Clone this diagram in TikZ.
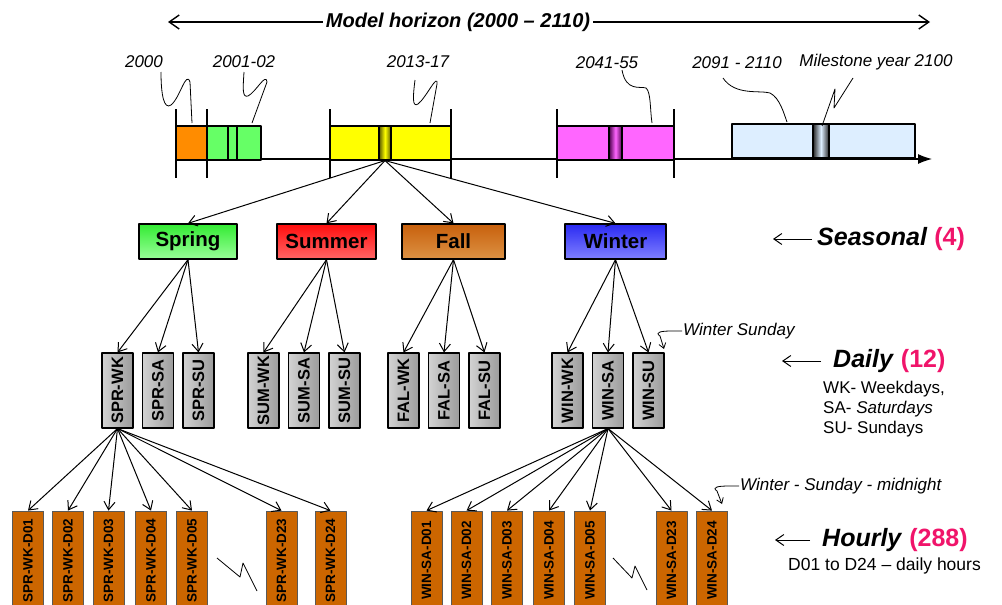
\documentclass[tikz,border=0pt]{standalone}
\usepackage{fontspec}
\setmainfont{Liberation Sans}
\usetikzlibrary{arrows.meta,positioning}

\definecolor{tlorange}{HTML}{FF8C00}
\definecolor{tlgreen}{HTML}{66FF66}
\definecolor{tlyellow}{HTML}{FFFF00}
\definecolor{tlpink}{HTML}{FF66FF}
\definecolor{tlblue}{HTML}{DDEEFF}
\definecolor{hourfill}{HTML}{CC6600}
\definecolor{countpink}{HTML}{F0146A}
\definecolor{falltop}{HTML}{C8600C}
\definecolor{fallbot}{HTML}{DC9244}
\definecolor{wintop}{HTML}{2A2AF2}
\definecolor{winbot}{HTML}{8080FF}

\newcommand{\fsz}[1]{\fontsize{#1}{#1}\selectfont}

\tikzset{
  tl/.style={draw, line width=1.1pt},
  tick/.style={line width=1.1pt},
  yearlbl/.style={font=\fsz{17}\itshape, inner sep=1pt},
  callout/.style={line width=0.8pt},
  season/.style={draw, line width=1.3pt, minimum height=35pt, inner sep=0pt, font=\fsz{20.5}\bfseries},
  daybox/.style={draw, line width=1.1pt, rotate=90, minimum width=75pt, minimum height=31pt, inner sep=0pt,
    left color=gray!35, right color=gray!78, font=\fsz{16.5}\bfseries},
  hourbox/.style={draw=gray!70!black, line width=0.8pt, fill=hourfill, rotate=90, minimum width=99pt,
    minimum height=31pt, inner sep=0pt, font=\fsz{13.5}\bfseries},
  link/.style={->, line width=1pt},
  levellbl/.style={anchor=west, inner sep=0pt, font=\fsz{25}},
}

\begin{document}
\begin{tikzpicture}[x=1pt, y=-1pt, >={Straight Barb[length=8pt,width=11pt]}, line join=round]
  \clip (0,0) rectangle (1002,605);

  % model horizon
  \node[font=\fsz{20}\bfseries\itshape, inner sep=3pt] (horizon) at (458,22) {Model horizon (2000 -- 2110)};
  \draw[line width=1.4pt, -{Straight Barb[length=10pt,width=14pt]}] (horizon.west) -- (168,22);
  \draw[line width=1.4pt, -{Straight Barb[length=10pt,width=14pt]}] (horizon.east) -- (930,22);

  % time line
  \draw[line width=1.1pt, -{Latex[length=14pt,width=10pt]}] (176,159) -- (932,159);
  \foreach \x in {176,207,330,451,557,674}
    \draw[tick] (\x,109) -- (\x,178);
  \draw[tl, fill=tlorange] (176,126) rectangle (207,160);
  \draw[tl, fill=tlgreen] (207,126) rectangle (261,160);
  \draw[tl, fill=tlgreen] (228,126) rectangle (237,160);
  \draw[tl, fill=tlyellow] (330,126) rectangle (451,160);
  \draw[tl, fill=tlpink] (557,126) rectangle (674,160);
  \draw[tl, fill=tlblue] (732,124) rectangle (915,158);
  \node[tl, minimum width=12pt, minimum height=34pt, inner sep=0pt,
    left color=olive!70!black, right color=olive!70!black, middle color=tlyellow] (ms) at (385,143) {};
  \node[tl, minimum width=13pt, minimum height=34pt, inner sep=0pt,
    left color=violet!60!black, right color=violet!60!black, middle color=tlpink] (ms2045) at (615.5,143) {};
  \node[tl, minimum width=16pt, minimum height=34pt, inner sep=0pt,
    left color=black!85, right color=black!85, middle color=tlblue] (ms2100) at (821,141) {};

  % period labels
  \node[yearlbl] (y2000) at (144,62) {2000};
  \node[yearlbl] (y2001) at (244,62) {2001-02};
  \node[yearlbl] (y2013) at (418,62) {2013-17};
  \node[yearlbl] (y2041) at (607,63) {2041-55};
  \node[yearlbl] (y2091) at (737,63) {2091 - 2110};
  \node[yearlbl] (y2100) at (876,62) {Milestone year 2100};
  \draw[callout] (161,72) .. controls (161,95) and (164,110) .. (171,105)
    .. controls (180,98) and (186,70) .. (190,82) -- (192,123);
  \draw[callout] (244,72) .. controls (243,88) and (242,98) .. (248,96)
    .. controls (256,92) and (266,72) .. (267,82) -- (252,123);
  \draw[callout] (415,80) .. controls (413,96) and (412,108) .. (418,104)
    .. controls (426,98) and (438,72) .. (437,84) -- (430,123);
  \draw[callout] (622,70) .. controls (626,92) and (640,86) .. (646,88)
    .. controls (651,92) and (650,110) .. (652,123);
  \draw[callout] (723,78) .. controls (735,96) and (760,90) .. (770,93)
    .. controls (780,98) and (784,114) .. (787,122);
  \draw[callout] (853,78) -- (834,108) -- (835,89) -- (822,126);

  % seasons
  \node[season, minimum width=98pt, top color=green!90!black!80, bottom color=green!40] (spring) at (188,241.5) {Spring};
  \node[season, minimum width=99pt, top color=red!95, bottom color=red!60] (summer) at (326.5,241.5) {Summer};
  \node[season, minimum width=103pt, top color=falltop, bottom color=fallbot] (fall) at (453.5,241.5) {Fall};
  \node[season, minimum width=101pt, top color=wintop, bottom color=winbot] (winter) at (615.5,241.5) {Winter};
  \foreach \n in {spring,summer,fall,winter}
    \draw[link] (ms.south) -- (\n.north);

  % days
  \foreach \s/\n/\x/\S in {spr/spring/117.5/SPR, sum/summer/263.5/SUM, fal/fall/403.5/FAL, win/winter/567.5/WIN} {
    \foreach \d/\D [count=\i from 0] in {wk/WK, sa/SA, su/SU} {
      \node[daybox] (\s\d) at (\x+40.5*\i,390.5) {\S-\D};
      \draw[link] (\n.south) -- (\s\d.east);
    }
  }

  % hours
  \foreach \h/\x in {01/28, 02/68, 03/108.5, 04/151, 05/192, 23/281.5, 24/330.5} {
    \node[hourbox] (sprwk\h) at (\x,560.5) {SPR-WK-D\h};
    \draw[link] (sprwk.west) -- (sprwk\h.east);
  }
  \foreach \h/\x in {01/426.5, 02/466.5, 03/507, 04/549, 05/590, 23/671.5, 24/712} {
    \node[hourbox] (winsa\h) at (\x,560.5) {WIN-SA-D\h};
    \draw[link] (winsa.west) -- (winsa\h.east);
  }
  \draw[callout] (217,558) -- (240,577) -- (243,563) -- (257,591);
  \draw[callout] (613,558) -- (632,578) -- (635,566) -- (647,590);

  % notes
  \node[yearlbl, anchor=west] (winsunday) at (682,331) {Winter Sunday};
  \draw[callout, ->, >={Straight Barb[length=5pt,width=7pt]}] (winsunday.west) -- ++(-10,0)
    .. controls ++(-10,0) and ++(-6,-4) .. ++(-12,5) -- (664,349);
  \node[yearlbl, anchor=west] (winmidnight) at (739,486) {Winter - Sunday - midnight};
  \draw[callout, ->, >={Straight Barb[length=5pt,width=7pt]}] (winmidnight.west) -- ++(-10,0)
    .. controls ++(-10,0) and ++(-6,-4) .. ++(-12,5) -- (722,504);

  % levels
  \node[levellbl] (seasonal) at (817,239) {\textbf{\textit{Seasonal}} \textcolor{countpink}{\textbf{(4)}}};
  \draw[->, line width=1pt] ([xshift=-5pt]seasonal.west) -- ++(-39,0);
  \node[levellbl] (daily) at (833,361) {\textbf{\textit{Daily}} \textcolor{countpink}{\textbf{(12)}}};
  \draw[->, line width=1pt] ([xshift=-12pt]daily.west) -- ++(-39,0);
  \node[anchor=west, align=left, inner sep=0pt, font=\fontsize{17}{20}\selectfont] (daykey) at (823,409)
    {WK- Weekdays,\\SA- \textit{Saturdays}\\SU- Sundays};
  \node[levellbl] (hourly) at (822,540) {\textbf{\textit{Hourly}} \textcolor{countpink}{\textbf{(288)}}};
  \draw[->, line width=1pt] ([xshift=-12pt]hourly.west) -- ++(-35,0);
  \node[anchor=west, inner sep=0pt, font=\fsz{17.5}] (hourkey) at (788,566) {D01 to D24 -- daily hours};
\end{tikzpicture}
\end{document}
